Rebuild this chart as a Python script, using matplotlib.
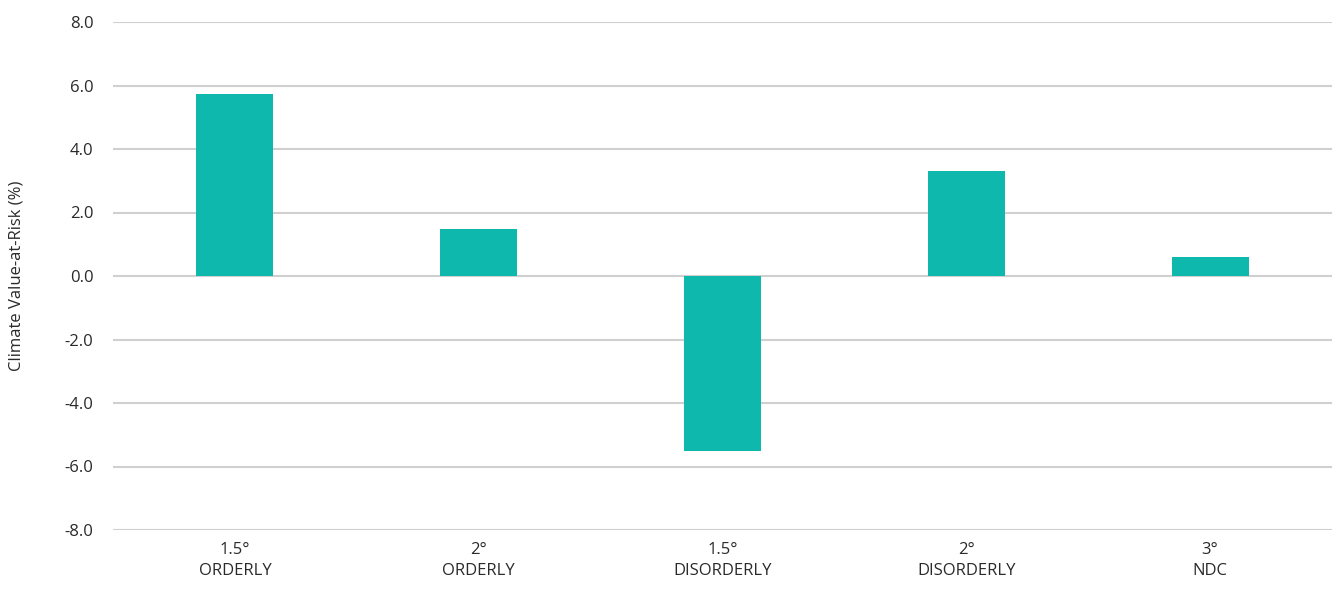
import matplotlib
matplotlib.use("Agg")
import matplotlib.pyplot as plt

scenarios = ["1.5°\nORDERLY", "2°\nORDERLY", "1.5°\nDISORDERLY", "2°\nDISORDERLY", "3°\nNDC"]
cvar_pct = [5.74, 1.48, -5.52, 3.31, 0.60]
y_ticks = [-8, -6, -4, -2, 0, 2, 4, 6, 8]

bar_color = "#0fb8ac"
grid_color = "#d0d0d0"
text_color = "#2a2a2a"

plt.rcParams["font.family"] = ["Open Sans", "DejaVu Sans"]

fig = plt.figure(figsize=(13.38, 5.91), dpi=100)
ax = fig.add_axes([113 / 1338, 61 / 591, (1332 - 113) / 1338, 508 / 591])

x = list(range(len(scenarios)))
ax.bar(x, cvar_pct, width=0.316, color=bar_color, zorder=3)

ax.set_xlim(-0.5, len(scenarios) - 0.5)
ax.set_ylim(-8, 8)
ax.set_yticks(y_ticks)
ax.set_yticklabels([f"{v:.1f}" for v in y_ticks], fontsize=12, color=text_color)
ax.set_xticks(x)
ax.set_xticklabels(scenarios, fontsize=12, color=text_color, linespacing=1.35)

ax.grid(axis="y", color=grid_color, linewidth=1.5, zorder=0)
ax.grid(axis="x", visible=False)
for s in ax.spines.values():
    s.set_visible(False)
ax.tick_params(axis="both", length=0)
ax.tick_params(axis="y", pad=14)
ax.tick_params(axis="x", pad=9)

fig.text(17 / 1338, 1 - 276 / 591, "Climate Value-at-Risk (%)", rotation=90,
         ha="center", va="center", fontsize=12, color=text_color)

fig.savefig("out.png", dpi=100, facecolor="white")
